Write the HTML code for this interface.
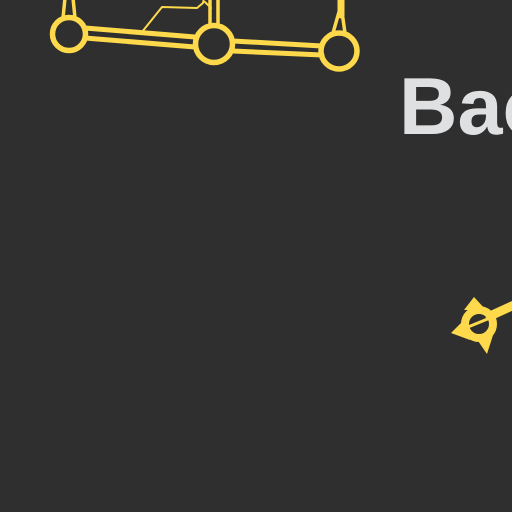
<!DOCTYPE html>
<html><head><meta charset="utf-8"><style>
html,body{margin:0;padding:0;background:#2f2f2f;width:512px;height:512px;overflow:hidden}
svg{display:block}
</style></head><body>
<svg width="512" height="512" viewBox="0 0 512 512">
<rect width="512" height="512" fill="#2f2f2f"/>
<g fill="none" stroke="#fdd94b" stroke-linecap="round" stroke-linejoin="round">
  <circle cx="69" cy="34" r="16.5" stroke-width="5.5"/>
  <circle cx="214" cy="44" r="18.5" stroke-width="5.5"/>
  <circle cx="339" cy="51" r="18" stroke-width="5.5"/>
  <path d="M85 28 L195 37 M85 38 L195 47" stroke-width="5"/>
  <path d="M233 41 L322 46 M233 51 L322 55" stroke-width="5"/>
  <path d="M63 18 L65 -2 M75 18 L73 -2" stroke-width="3.5"/>
  <path d="M210 25 L210 -2 M218 25 L218 -2" stroke-width="3.5"/>
  <path d="M333 33 L339 12 M345 33 L342 12" stroke-width="3.5"/>
  <path d="M341 -2 L341 15" stroke-width="7"/>
  <path d="M142 32 L162 7 L197 8 L203 3 L204 -2 M205 2 L211 8" stroke-width="2"/>
  <path d="M490 316 L514 305" stroke-width="9"/>
  <circle cx="479" cy="324" r="14" stroke-width="8"/>
  <path d="M468 327 L490 318" stroke-width="3"/>
</g>
<g fill="#fdd94b">
  <polygon points="464,310 474,297 486,310"/>
  <polygon points="466,318 451,333 470,340"/>
  <polygon points="476,338 487,354 494,332"/>
</g>
<text x="399" y="134" font-family="Liberation Sans, sans-serif" font-weight="bold" font-size="81" fill="#dfe0e2">Bac</text>
</svg>
</body></html>
